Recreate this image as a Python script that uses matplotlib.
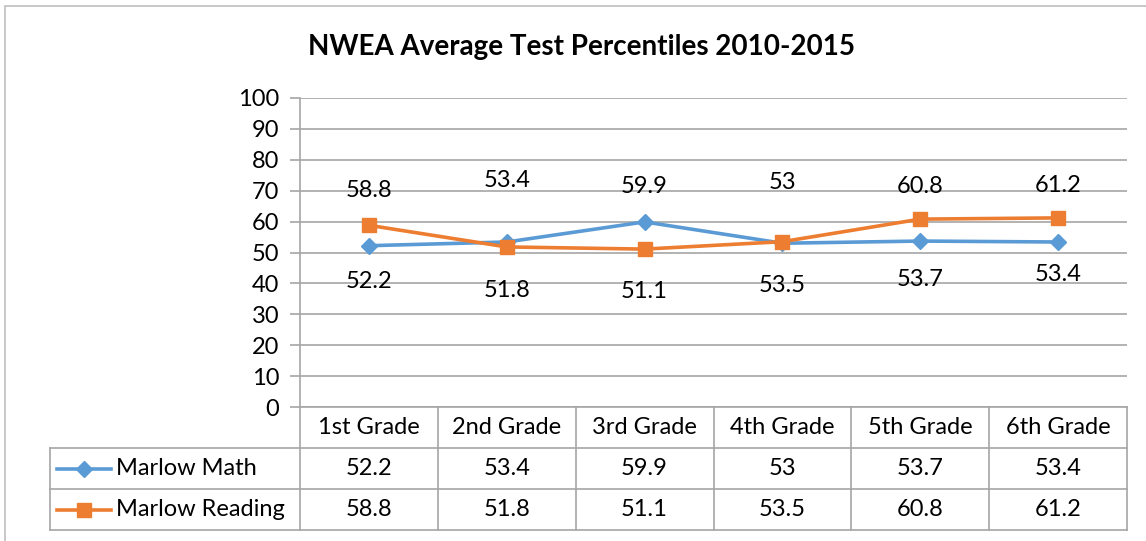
import matplotlib.pyplot as plt
from matplotlib.lines import Line2D
from matplotlib.patches import Rectangle

plt.rcParams['font.family'] = ['Lato', 'DejaVu Sans']

grades = ["1st Grade", "2nd Grade", "3rd Grade", "4th Grade", "5th Grade", "6th Grade"]
math = [52.2, 53.4, 59.9, 53, 53.7, 53.4]
reading = [58.8, 51.8, 51.1, 53.5, 60.8, 61.2]
yticks = [0, 10, 20, 30, 40, 50, 60, 70, 80, 90, 100]

# label offsets (pixels, + is up) as placed in the original chart
math_off = [-36, 61, 35, 61, -38, -33]
read_off = [35, -44, -42, -44, 33, 32]

blue = "#5B9BD5"
orange = "#ED7D31"
grey = "#A6A6A6"
W, H = 1146, 541
fs = 17

fig = plt.figure(figsize=(W / 100, H / 100), dpi=100)

# outer chart border (runs off the right/bottom edge)
fig.patches.append(Rectangle((5 / W, -0.1), 1.2, 1 - 6 / H + 0.1, transform=fig.transFigure,
                             fill=False, edgecolor="#BFBFBF", lw=1.2))

def px_axes(x0, y0, x1, y1):
    return fig.add_axes([x0 / W, 1 - y1 / H, (x1 - x0) / W, (y1 - y0) / H])

ax = px_axes(300, 98, 1127, 407)
x = range(len(grades))
ax.plot(x, math, color=blue, lw=2.6, marker="D", ms=8, label="Marlow Math", zorder=3)
ax.plot(x, reading, color=orange, lw=2.6, marker="s", ms=10, label="Marlow Reading", zorder=3)
for i in x:
    ax.annotate(f"{math[i]:g}", (i, math[i]), xytext=(0, math_off[i]), textcoords="offset pixels",
                ha="center", va="center", fontsize=fs)
    ax.annotate(f"{reading[i]:g}", (i, reading[i]), xytext=(0, read_off[i]), textcoords="offset pixels",
                ha="center", va="center", fontsize=fs)

ax.set_xlim(-0.5, len(grades) - 0.5)
ax.set_ylim(0, 100)
ax.set_yticks(yticks)
ax.set_xticks([])
ax.tick_params(axis="y", length=7, color=grey, width=1.2, labelsize=fs, pad=8)
ax.grid(axis="y", color=grey, lw=1.2)
ax.set_axisbelow(True)
for s in ["top", "right"]:
    ax.spines[s].set_visible(False)
for s in ["left", "bottom"]:
    ax.spines[s].set_color(grey)
    ax.spines[s].set_linewidth(1.2)

fig.text(581 / W, 1 - 47 / H, "NWEA Average Test Percentiles 2010-2015",
         ha="center", va="center", fontsize=20, fontweight="bold")

# data table under the plot
col_w = (1127 - 300) / len(grades)
leg_w = (300 - 50) / col_w
tax = px_axes(50, 407, 1127, 530)
tax.set_xlim(-0.5 - leg_w, len(grades) - 0.5)
tax.set_ylim(3, 0)
tax.axis("off")

lk = dict(color=grey, lw=1.2, clip_on=False)
for i in range(len(grades) + 1):
    tax.plot([i - 0.5, i - 0.5], [0, 3], **lk)
tax.plot([-0.5 - leg_w] * 2, [1, 3], **lk)
for r in [1, 2, 3]:
    tax.plot([-0.5 - leg_w, len(grades) - 0.5], [r, r], **lk)

for i, g in enumerate(grades):
    tax.text(i, 0.5, g, ha="center", va="center", fontsize=fs)
    tax.text(i, 1.5, f"{math[i]:g}", ha="center", va="center", fontsize=fs)
    tax.text(i, 2.5, f"{reading[i]:g}", ha="center", va="center", fontsize=fs)

x0 = -0.5 - leg_w
for row, (name, c, m, ms) in enumerate([("Marlow Math", blue, "D", 8), ("Marlow Reading", orange, "s", 10)]):
    y = 1.5 + row
    tax.add_line(Line2D([x0 + 7 / col_w, x0 + 61 / col_w], [y, y], color=c, lw=2.6))
    tax.plot([x0 + 34 / col_w], [y], marker=m, color=c, ms=ms)
    tax.text(x0 + 66 / col_w, y, name, ha="left", va="center", fontsize=fs)

fig.savefig("out.png", dpi=100)
